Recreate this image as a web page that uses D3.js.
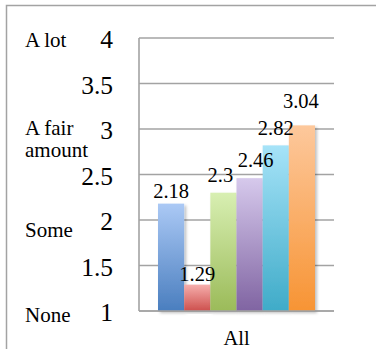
<!DOCTYPE html>
<html>
<head>
<meta charset="utf-8">
<script src="https://cdn.jsdelivr.net/npm/d3@7"></script>
<style>
  html, body { margin: 0; padding: 0; background: #fff; }
  svg { display: block; }
  text { font-family: "Liberation Serif", "Times New Roman", serif; fill: #000; }
</style>
</head>
<body>
<svg id="chart" width="376" height="349"></svg>
<script>
// Chart data
const categories = ["All"];
const seriesNames = ["S1", "S2", "S3", "S4", "S5", "S6"];
const seriesValues = [2.18, 1.29, 2.3, 2.46, 2.82, 3.04];
const tickValues = [1, 1.5, 2, 2.5, 3, 3.5, 4];
const tickLabels = ["1", "1.5", "2", "2.5", "3", "3.5", "4"];
const scaleWords = ["None", "Some", "A fair amount", "A lot"];
const scaleWordValues = [1, 2, 3, 4];

// Bar fill gradients (light top, saturated bottom)
const barTop = ["#abc9f5", "#f6aeac", "#d8efb2", "#d6c9ec", "#a6e3f8", "#fdc89c"];
const barBottom = ["#4a7ebf", "#cd504d", "#9bbb59", "#8064a2", "#3fabc8", "#f79434"];

const svg = d3.select("#chart");
const plot = { left: 139, right: 334, top: 38, bottom: 311 };

const defs = svg.append("defs");
seriesNames.forEach((s, i) => {
  const g = defs.append("linearGradient")
    .attr("id", "grad" + i)
    .attr("x1", 0).attr("y1", 0).attr("x2", 0).attr("y2", 1);
  g.append("stop").attr("offset", "0%").attr("stop-color", barTop[i]);
  g.append("stop").attr("offset", "100%").attr("stop-color", barBottom[i]);
});
const shadow = defs.append("filter").attr("id", "shadow")
  .attr("x", "-20%").attr("y", "-5%").attr("width", "150%").attr("height", "115%");
shadow.append("feDropShadow")
  .attr("dx", 2).attr("dy", 2).attr("stdDeviation", 1.6)
  .attr("flood-color", "#000").attr("flood-opacity", 0.25);

// Outer chart border
svg.append("rect")
  .attr("x", 6.5).attr("y", 5.5).attr("width", 420).attr("height", 420)
  .attr("fill", "none").attr("stroke", "#a3a3a3").attr("stroke-width", 1.5);

const y = d3.scaleLinear().domain([1, 4]).range([plot.bottom, plot.top]);
const x = d3.scaleBand().domain(categories).range([plot.left, plot.right]).padding(0);
const xs = d3.scaleBand().domain(seriesNames)
  .range([x("All") + 19, x("All") + x.bandwidth() - 19]).padding(0);

// Gridlines
svg.append("g")
  .selectAll("line").data(tickValues).join("line")
  .attr("x1", plot.left).attr("x2", plot.right)
  .attr("y1", d => y(d)).attr("y2", d => y(d))
  .attr("stroke", "#a3a3a3").attr("stroke-width", 1.6);

// Left axis line
svg.append("line")
  .attr("x1", plot.left).attr("x2", plot.left)
  .attr("y1", plot.top).attr("y2", plot.bottom)
  .attr("stroke", "#a3a3a3").attr("stroke-width", 1.6);

// Bars
svg.append("g")
  .selectAll("rect").data(seriesValues).join("rect")
  .attr("x", (d, i) => xs(seriesNames[i]))
  .attr("width", xs.bandwidth())
  .attr("y", d => y(d))
  .attr("height", d => y(1) - y(d))
  .attr("fill", (d, i) => `url(#grad${i})`)
  .attr("filter", "url(#shadow)");

// Redraw baseline above bars
svg.append("line")
  .attr("x1", plot.left).attr("x2", plot.right)
  .attr("y1", y(1)).attr("y2", y(1))
  .attr("stroke", "#a3a3a3").attr("stroke-width", 1.6);

// Data labels (small nudges keep neighbouring labels apart)
const labelDx = [0, 0, -3, 6, 0, -1];
const labelDy = [-6, -4, -11, -11, -10, -17];
svg.append("g")
  .selectAll("text").data(seriesValues).join("text")
  .attr("x", (d, i) => xs(seriesNames[i]) + xs.bandwidth() / 2 + labelDx[i])
  .attr("y", (d, i) => y(d) + labelDy[i])
  .attr("text-anchor", "middle")
  .attr("font-size", 20.5)
  .text(d => d);

// Numeric tick labels
svg.append("g")
  .selectAll("text").data(tickValues).join("text")
  .attr("x", 113)
  .attr("y", d => y(d) + 10)
  .attr("text-anchor", "end")
  .attr("font-size", 25.5)
  .text((d, i) => tickLabels[i]);

// Verbal scale labels
const wordDy = [11, 17, 6, 9];
scaleWords.forEach((w, i) => {
  const t = svg.append("text")
    .attr("x", 25)
    .attr("y", y(scaleWordValues[i]) + wordDy[i])
    .attr("font-size", 21);
  const parts = w === "A fair amount" ? ["A fair", "amount"] : [w];
  parts.forEach((p, j) => {
    t.append("tspan").attr("x", 25).attr("dy", j === 0 ? 0 : 22).text(p);
  });
});

// Category label
svg.append("text")
  .attr("x", x("All") + x.bandwidth() / 2)
  .attr("y", 345)
  .attr("text-anchor", "middle")
  .attr("font-size", 20.5)
  .text(categories[0]);
</script>
</body>
</html>
